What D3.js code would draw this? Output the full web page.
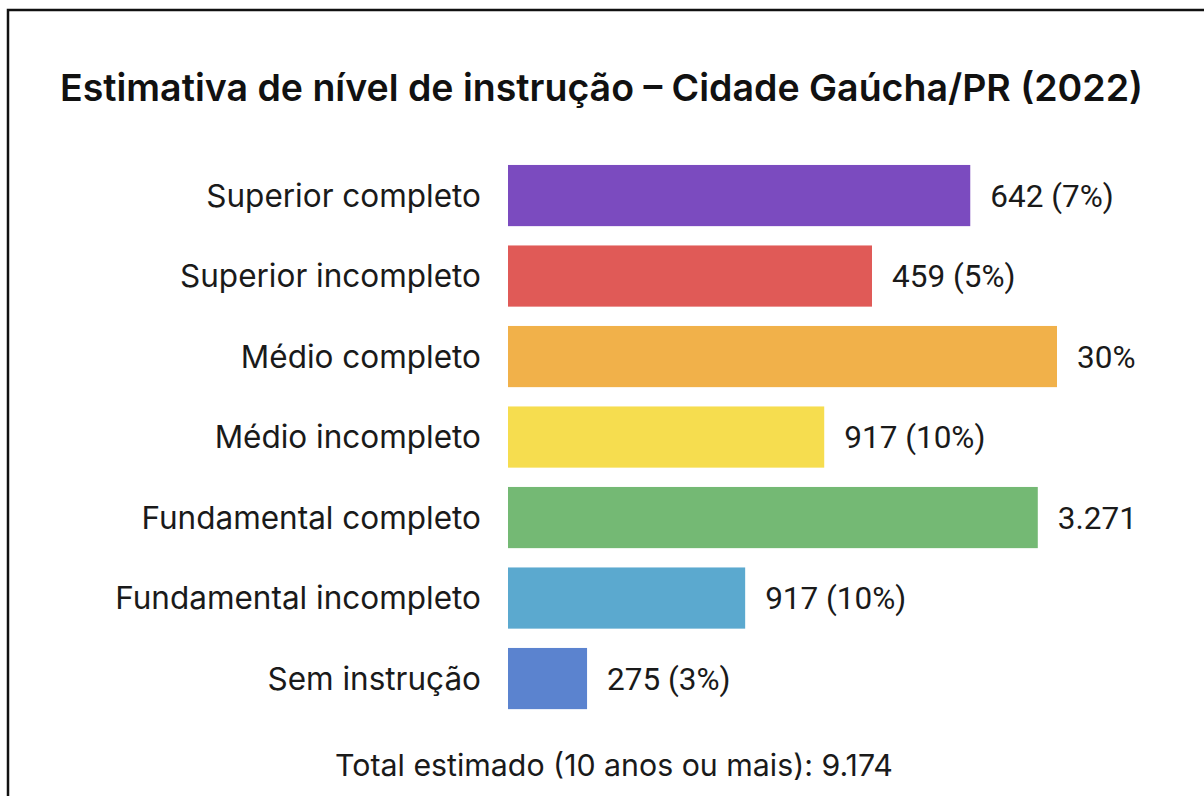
<!DOCTYPE html>
<html lang="pt">
<head>
<meta charset="utf-8">
<script src="https://cdn.jsdelivr.net/npm/d3@7"></script>
<style>
  body { margin: 0; background: #fff; }
</style>
</head>
<body>
<script>
// categories, top to bottom
var categories = ["Superior completo", "Superior incompleto", "Médio completo", "Médio incompleto",
                  "Fundamental completo", "Fundamental incompleto", "Sem instrução"];
// bar length as drawn in the picture (relative, longest bar = 100)
var barValues = [84.2, 66.3, 100, 57.6, 96.5, 43.2, 14.4];
// value labels as printed next to the bars
var valueLabels = ["642 (7%)", "459 (5%)", "30%", "917 (10%)", "3.271", "917 (10%)", "275 (3%)"];
var barColors = ["#7b4bbf", "#e05a57", "#f1b14a", "#f6dd4f", "#74b974", "#5ba9cf", "#5b83cf"];
var title = "Estimativa de nível de instrução – Cidade Gaúcha/PR (2022)";
var footer = "Total estimado (10 anos ou mais): 9.174";

var w = 1204, h = 796;

var svg = d3.select("body").append("svg")
  .attr("width", w)
  .attr("height", h);

svg.append("rect").attr("width", w).attr("height", h).attr("fill", "#fff");

// frame (left + top edge visible)
svg.append("path")
  .attr("d", "M8,796 L8,10 L1204,10")
  .attr("fill", "none")
  .attr("stroke", "#111")
  .attr("stroke-width", 2.5);

var xScale = d3.scaleLinear().domain([0, 100]).range([508, 1057]);
var yScale = d3.scaleBand().domain(categories).range([155.3, 718.8])
  .paddingInner(0.24).paddingOuter(0.12);

// title
svg.append("text")
  .attr("x", 60)
  .attr("y", 101)
  .attr("font-family", "Inter, 'Noto Sans', sans-serif")
  .attr("font-weight", 600)
  .attr("font-size", 37.5)
  .attr("fill", "#111")
  .text(title);

svg.selectAll("rect.bar")
  .data(categories)
  .enter()
  .append("rect")
  .attr("class", "bar")
  .attr("x", xScale(0))
  .attr("y", function(d) { return yScale(d); })
  .attr("width", function(d, i) { return xScale(barValues[i]) - xScale(0); })
  .attr("height", yScale.bandwidth())
  .attr("fill", function(d, i) { return barColors[i]; });

svg.selectAll("text.cat")
  .data(categories)
  .enter()
  .append("text")
  .attr("class", "cat")
  .attr("x", 481)
  .attr("y", function(d) { return yScale(d) + yScale.bandwidth() / 2; })
  .attr("dy", "0.36em")
  .attr("text-anchor", "end")
  .attr("font-family", "Inter, 'Noto Sans', sans-serif")
  .attr("font-size", 31.5)
  .attr("fill", "#1a1a1a")
  .text(function(d) { return d; });

svg.selectAll("text.val")
  .data(categories)
  .enter()
  .append("text")
  .attr("class", "val")
  .attr("x", function(d, i) { return xScale(barValues[i]) + 20; })
  .attr("y", function(d) { return yScale(d) + yScale.bandwidth() / 2; })
  .attr("dy", "0.36em")
  .attr("font-family", "Roboto, 'Liberation Sans', sans-serif")
  .attr("font-size", 31.5)
  .attr("fill", "#1a1a1a")
  .text(function(d, i) { return valueLabels[i]; });

svg.append("text")
  .attr("x", 614)
  .attr("y", 776)
  .attr("text-anchor", "middle")
  .attr("font-family", "Inter, 'Noto Sans', sans-serif")
  .attr("font-size", 30.3)
  .attr("fill", "#1a1a1a")
  .text(footer);
</script>
</body>
</html>
